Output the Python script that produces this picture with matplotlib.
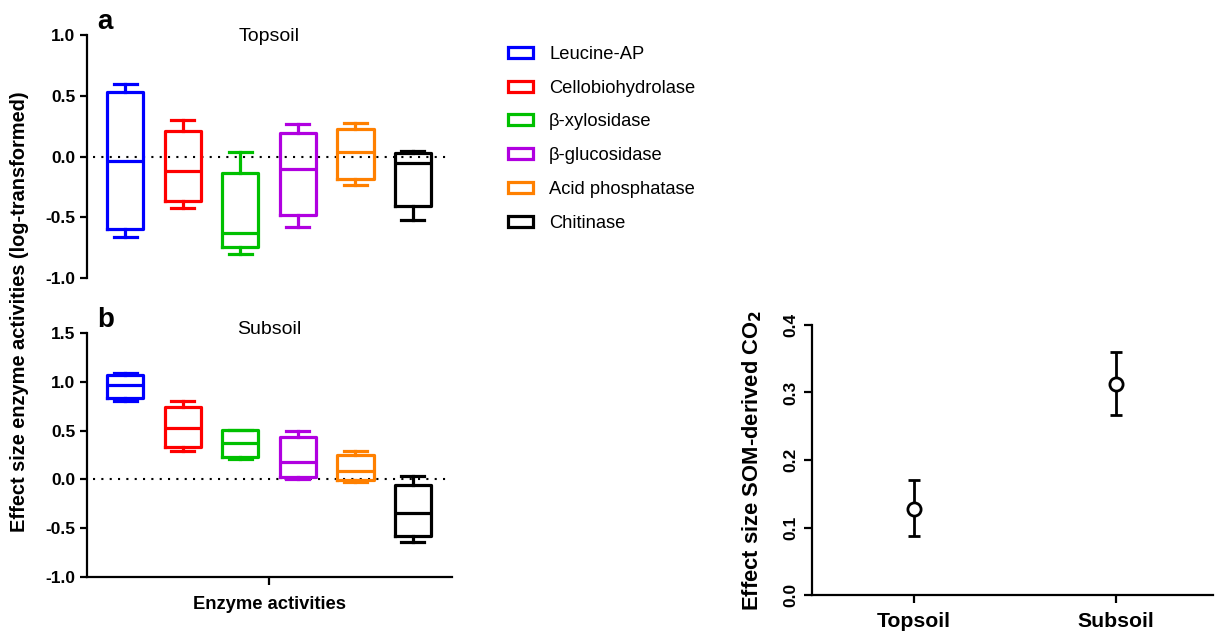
import matplotlib
matplotlib.use('Agg')
import matplotlib.pyplot as plt
from matplotlib.patches import Patch

plt.rcParams['font.family'] = ['Liberation Sans', 'DejaVu Sans']

# enzyme names and colours
enzymes = ['Leucine-AP', 'Cellobiohydrolase', 'β-xylosidase',
           'β-glucosidase', 'Acid phosphatase', 'Chitinase']
colores = ['#0000ff', '#ff0000', '#00c000', '#b000e0', '#ff8000', '#000000']

# topsoil box stats: whisker low, q1, median, q3, whisker high
top_lo = [-0.665, -0.425, -0.80, -0.583, -0.234, -0.526]
top_q1 = [-0.60, -0.37, -0.744, -0.48, -0.188, -0.41]
top_med = [-0.04, -0.12, -0.627, -0.10, 0.033, -0.05]
top_q3 = [0.53, 0.21, -0.136, 0.196, 0.23, 0.025]
top_hi = [0.597, 0.30, 0.04, 0.27, 0.278, 0.046]

# subsoil box stats
sub_lo = [0.798, 0.29, 0.205, 0.0, -0.027, -0.64]
sub_q1 = [0.829, 0.336, 0.233, 0.027, -0.007, -0.579]
sub_med = [0.962, 0.531, 0.37, 0.175, 0.089, -0.349]
sub_q3 = [1.072, 0.743, 0.507, 0.438, 0.247, -0.058]
sub_hi = [1.089, 0.798, 0.507, 0.493, 0.29, 0.031]

# SOM-derived CO2 effect size
suelos = ['Topsoil', 'Subsoil']
co2_media = [0.128, 0.313]
co2_bajo = [0.088, 0.266]
co2_alto = [0.170, 0.360]

fig = plt.figure(figsize=(12.21, 6.34), dpi=100)

axA = fig.add_axes([0.0713, 0.5615, 0.299, 0.3833])
axB = fig.add_axes([0.0713, 0.0899, 0.299, 0.385])
axC = fig.add_axes([0.665, 0.0615, 0.3284, 0.4259])

def cajas(ax, lo, q1, med, q3, hi):
    stats = []
    for i in range(len(lo)):
        stats.append({'whislo': lo[i], 'q1': q1[i], 'med': med[i],
                      'q3': q3[i], 'whishi': hi[i], 'fliers': []})
    bp = ax.bxp(stats, positions=range(1, len(lo) + 1), widths=0.63,
                showfliers=False, patch_artist=False, capwidths=0.4)
    for i, c in enumerate(colores):
        for art in [bp['boxes'][i], bp['medians'][i]]:
            art.set_color(c)
            art.set_linewidth(2.3)
        for art in bp['whiskers'][2 * i:2 * i + 2] + bp['caps'][2 * i:2 * i + 2]:
            art.set_color(c)
            art.set_linewidth(2.3)
    ax.axhline(0, xmin=0.015, xmax=0.985, ls=(0, (1, 3)), color='black', lw=1.5, zorder=0)
    ax.set_xlim(0.34, 6.68)
    for s in ['top', 'right']:
        ax.spines[s].set_visible(False)
    ax.spines['left'].set_linewidth(1.6)
    ax.spines['bottom'].set_linewidth(1.6)
    ax.tick_params(axis='y', width=1.6, length=5, labelsize=12.5)

cajas(axA, top_lo, top_q1, top_med, top_q3, top_hi)
axA.set_ylim(-1.0, 1.0)
axA.set_yticks([-1.0, -0.5, 0.0, 0.5, 1.0])
axA.set_yticklabels(['-1.0', '-0.5', '0.0', '0.5', '1.0'], fontweight='bold')
axA.spines['bottom'].set_visible(False)
axA.set_xticks([])
axA.set_title('Topsoil', fontsize=14, pad=-2, y=0.985)

cajas(axB, sub_lo, sub_q1, sub_med, sub_q3, sub_hi)
axB.set_ylim(-1.0, 1.5)
axB.set_yticks([-1.0, -0.5, 0.0, 0.5, 1.0, 1.5])
axB.set_yticklabels(['-1.0', '-0.5', '0.0', '0.5', '1.0', '1.5'], fontweight='bold')
axB.set_xticks([3.5])
axB.set_xticklabels([''])
axB.tick_params(axis='x', width=1.6, length=6)
axB.set_xlabel('Enzyme activities', fontsize=13.2, fontweight='bold', labelpad=4)
axB.set_title('Subsoil', fontsize=14, pad=-2, y=1.008)

fig.text(0.080, 0.966, 'a', fontsize=20, fontweight='bold', va='center')
fig.text(0.080, 0.495, 'b', fontsize=20, fontweight='bold', va='center')
fig.text(0.016, 0.508, 'Effect size enzyme activities (log-transformed)',
         rotation=90, fontsize=14.4, fontweight='bold', ha='center', va='center')

handles = [Patch(facecolor='white', edgecolor=c, linewidth=2.3) for c in colores]
fig.legend(handles, enzymes, loc='upper left', bbox_to_anchor=(0.4025, 0.954),
           frameon=False, fontsize=13.2, handlelength=1.37, handleheight=0.55,
           labelspacing=0.92, handletextpad=0.87)

# right panel
xs = list(range(len(suelos)))
err = [[co2_media[i] - co2_bajo[i] for i in xs], [co2_alto[i] - co2_media[i] for i in xs]]
axC.errorbar(xs, co2_media, yerr=err, fmt='o', color='black', mfc='white', mec='black',
             ms=9.5, mew=2, elinewidth=2, capsize=4, capthick=2)
axC.set_xlim(-0.505, 1.48)
axC.set_ylim(0, 0.4)
axC.set_yticks([0.0, 0.1, 0.2, 0.3, 0.4])
axC.set_yticklabels(['0.0', '0.1', '0.2', '0.3', '0.4'], fontweight='bold', fontsize=12.5,
                    rotation=90, va='center')
axC.set_xticks(xs)
axC.set_xticklabels(suelos, fontweight='bold', fontsize=15.3)
for s in ['top', 'right']:
    axC.spines[s].set_visible(False)
axC.spines['left'].set_linewidth(1.6)
axC.spines['bottom'].set_linewidth(1.6)
axC.tick_params(width=1.6, length=6)
axC.tick_params(axis='x', pad=6)
axC.set_ylabel('Effect size SOM-derived CO$_\\mathbf{2}$', fontsize=15.8, fontweight='bold',
               labelpad=14)

fig.savefig('out.png', dpi=100)
